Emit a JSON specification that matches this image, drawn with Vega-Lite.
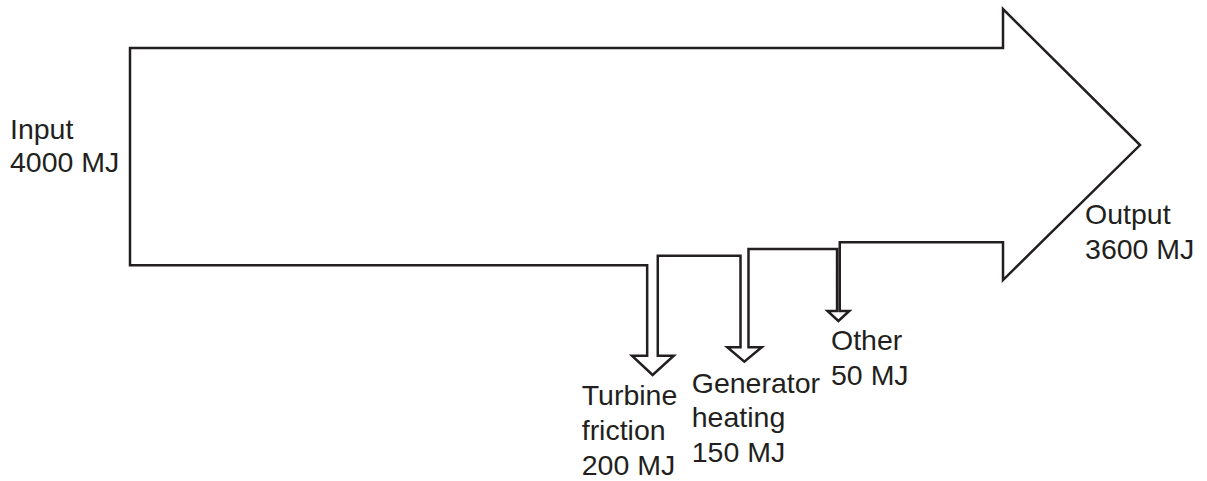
{
  "$schema": "https://vega.github.io/schema/vega-lite/v6.json",
  "width": 1207,
  "height": 481,
  "padding": 0,
  "autosize": {"type": "fit", "contains": "padding"},
  "background": "white",
  "config": {"view": {"stroke": null}},
  "datasets": {
    "outline": [
      {"i": 0, "x": 0, "y": 0},
      {"i": 1, "x": 16070, "y": 0},
      {"i": 2, "x": 16070, "y": -718},
      {"i": 3, "x": 18592, "y": 1786},
      {"i": 4, "x": 16070, "y": 4271},
      {"i": 5, "x": 16070, "y": 3575},
      {"i": 6, "x": 13065, "y": 3575},
      {"i": 7, "x": 13065, "y": 4841},
      {"i": 8, "x": 13240, "y": 4841},
      {"i": 9, "x": 13040, "y": 5025},
      {"i": 10, "x": 12840, "y": 4841},
      {"i": 11, "x": 13015, "y": 4841},
      {"i": 12, "x": 13015, "y": 3700},
      {"i": 13, "x": 11385, "y": 3700},
      {"i": 14, "x": 11385, "y": 5510},
      {"i": 15, "x": 11628, "y": 5510},
      {"i": 16, "x": 11308, "y": 5775},
      {"i": 17, "x": 10995, "y": 5510},
      {"i": 18, "x": 11238, "y": 5510},
      {"i": 19, "x": 11238, "y": 3825},
      {"i": 20, "x": 9715, "y": 3825},
      {"i": 21, "x": 9715, "y": 5664},
      {"i": 22, "x": 10010, "y": 5664},
      {"i": 23, "x": 9620, "y": 6019},
      {"i": 24, "x": 9240, "y": 5664},
      {"i": 25, "x": 9520, "y": 5664},
      {"i": 26, "x": 9520, "y": 4000},
      {"i": 27, "x": 0, "y": 4000},
      {"i": 28, "x": 0, "y": 0}
    ],
    "labels": [
      {"x": -2209, "y": 1675, "text": "Input"},
      {"x": -2209, "y": 2283, "text": "4000 MJ"},
      {"x": 8315, "y": 6572, "text": "Turbine"},
      {"x": 8315, "y": 7216, "text": "friction"},
      {"x": 8315, "y": 7860, "text": "200 MJ"},
      {"x": 10340, "y": 6351, "text": "Generator"},
      {"x": 10340, "y": 6977, "text": "heating"},
      {"x": 10340, "y": 7615, "text": "150 MJ"},
      {"x": 12904, "y": 5559, "text": "Other"},
      {"x": 12904, "y": 6204, "text": "50 MJ"},
      {"x": 17580, "y": 3240, "text": "Output"},
      {"x": 17580, "y": 3884, "text": "3600 MJ"}
    ]
  },
  "layer": [
    {
      "data": {"name": "outline"},
      "mark": {"type": "line", "color": "#231f20", "strokeWidth": 2.5, "strokeJoin": "miter", "strokeCap": "square", "interpolate": "linear"},
      "encoding": {
        "x": {"field": "x", "type": "quantitative", "axis": null, "scale": {"domain": [-2393, 19825], "nice": false, "zero": false}},
        "y": {"field": "y", "type": "quantitative", "axis": null, "scale": {"domain": [-884, 7971], "nice": false, "zero": false, "reverse": true}},
        "order": {"field": "i", "type": "quantitative"}
      }
    },
    {
      "data": {"name": "labels"},
      "mark": {"type": "text", "align": "left", "baseline": "alphabetic", "font": "Liberation Sans", "fontSize": 28.5, "color": "#231f20"},
      "encoding": {
        "x": {"field": "x", "type": "quantitative"},
        "y": {"field": "y", "type": "quantitative"},
        "text": {"field": "text", "type": "nominal"}
      }
    }
  ]
}
